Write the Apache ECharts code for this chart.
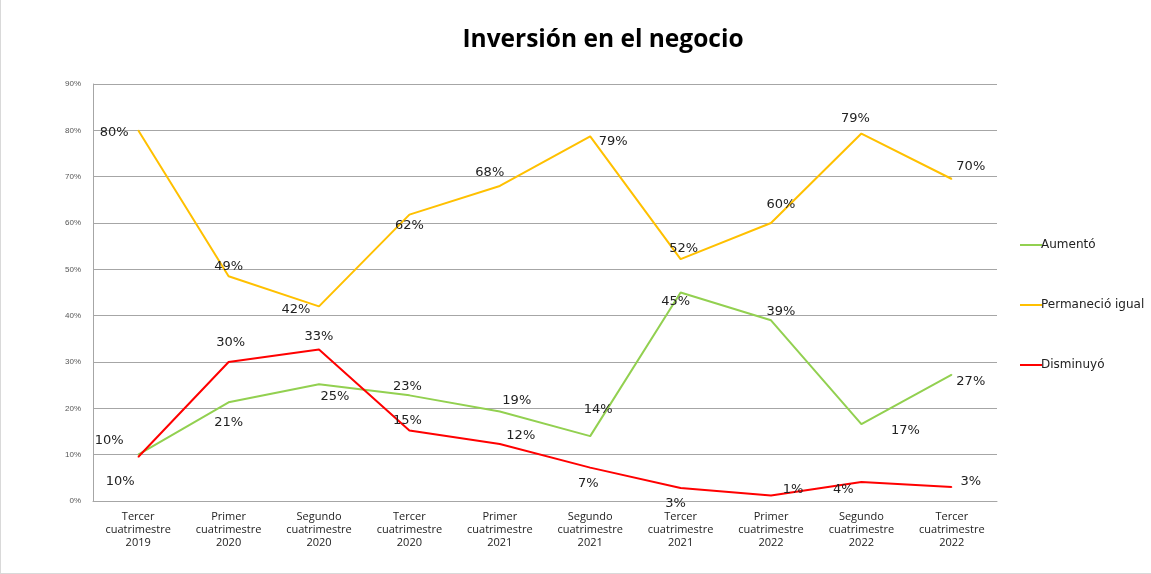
<!DOCTYPE html>
<html>
<head>
<meta charset="utf-8">
<script src="https://cdn.jsdelivr.net/npm/echarts@6/dist/echarts.min.js"></script>
<style>
    html, body { margin: 0; padding: 0; background: #fff; }
    .charts {
        width: 1151px;
        height: 574px;
        box-sizing: border-box;
        border-left: 1px solid #d9d9d9;
        border-bottom: 1px solid #d9d9d9;
    }
</style>
</head>
<body>
<div class="charts" id="charts"></div>
<script>
// datos
var categories = [
    'Tercer\ncuatrimestre\n2019', 'Primer\ncuatrimestre\n2020', 'Segundo\ncuatrimestre\n2020',
    'Tercer\ncuatrimestre\n2020', 'Primer\ncuatrimestre\n2021', 'Segundo\ncuatrimestre\n2021',
    'Tercer\ncuatrimestre\n2021', 'Primer\ncuatrimestre\n2022', 'Segundo\ncuatrimestre\n2022',
    'Tercer\ncuatrimestre\n2022'
];
var aumento = [0.10, 0.213, 0.252, 0.228, 0.193, 0.14, 0.45, 0.39, 0.166, 0.273];
var permanecio = [0.80, 0.485, 0.42, 0.618, 0.68, 0.787, 0.522, 0.60, 0.793, 0.695];
var disminuyo = [0.095, 0.30, 0.327, 0.152, 0.123, 0.072, 0.028, 0.012, 0.041, 0.03];
var etiquetasA = ['10%', '21%', '25%', '23%', '19%', '14%', '45%', '39%', '17%', '27%'];
var etiquetasP = ['80%', '49%', '42%', '62%', '68%', '79%', '52%', '60%', '79%', '70%'];
var etiquetasD = ['10%', '30%', '33%', '15%', '12%', '7%', '3%', '1%', '4%', '3%'];

// desplazamiento de cada etiqueta respecto al punto (como en el original de Excel)
var offA = [[-29, -14], [0, 20], [16, 12], [-2, -9], [17, -11], [8, -27], [-5, 9], [10, -9], [44, 7], [19, 7]];
var offP = [[-24, 2], [0, -10], [-23, 3], [0, 11], [-10, -13], [23, 5], [3, -11], [10, -18], [-6, -15], [19, -12]];
var offD = [[-18, 25], [2, -19], [0, -13], [-2, -10], [21, -8], [-2, 16], [-5, 16], [22, -6], [-18, 8], [19, -5]];

function buildData(values, labels, offsets) {
    return values.map(function (v, i) {
        return {
            value: v,
            label: { formatter: labels[i], offset: offsets[i] }
        };
    });
}

function serie(name, color, values, labels, offsets) {
    return {
        name: name,
        type: 'line',
        data: buildData(values, labels, offsets),
        symbol: 'circle',
        symbolSize: 1,
        itemStyle: { color: color },
        lineStyle: { color: color, width: 2 },
        label: {
            show: true,
            position: 'inside',
            color: '#222',
            fontSize: 13,
            fontFamily: 'DejaVu Sans'
        },
        emphasis: { disabled: true }
    };
}

var chartDom = document.getElementById('charts');
var myChart = echarts.init(chartDom);
var option = {
    backgroundColor: '#fff',
    animation: false,
    title: {
        text: 'Inversión en el negocio',
        left: 597,
        textAlign: 'center',
        top: 23,
        textStyle: {
            fontFamily: 'Open Sans',
            fontWeight: 'bold',
            fontSize: 24.5,
            color: '#000'
        }
    },
    legend: {
        orient: 'vertical',
        left: 1014,
        top: 234,
        itemGap: 48,
        itemWidth: 22,
        itemHeight: 2,
        icon: 'rect',
        textStyle: { fontFamily: 'DejaVu Sans', fontSize: 12, color: '#222', padding: [0, 0, 0, -6] },
        data: ['Aumentó', 'Permaneció igual', 'Disminuyó']
    },
    grid: { left: 92, right: 154, top: 84, bottom: 72 },
    xAxis: {
        type: 'category',
        data: categories,
        boundaryGap: true,
        axisLine: { lineStyle: { color: '#a6a6a6' } },
        axisTick: { show: false },
        axisLabel: {
            fontFamily: 'Open Sans',
            fontSize: 11,
            lineHeight: 13,
            color: '#222',
            margin: 9,
            interval: 0
        }
    },
    yAxis: {
        type: 'value',
        min: 0,
        max: 0.9,
        interval: 0.1,
        axisLine: { show: true, lineStyle: { color: '#a6a6a6' } },
        axisTick: { show: false },
        splitLine: { lineStyle: { color: '#a6a6a6' } },
        axisLabel: {
            fontFamily: 'Liberation Sans',
            fontSize: 8,
            color: '#555',
            margin: 12,
            formatter: function (v) { return Math.round(v * 100) + '%'; }
        }
    },
    series: [
        serie('Aumentó', '#92D050', aumento, etiquetasA, offA),
        serie('Permaneció igual', '#FFC000', permanecio, etiquetasP, offP),
        serie('Disminuyó', '#FF0000', disminuyo, etiquetasD, offD)
    ]
};
option && myChart.setOption(option);
</script>
</body>
</html>
